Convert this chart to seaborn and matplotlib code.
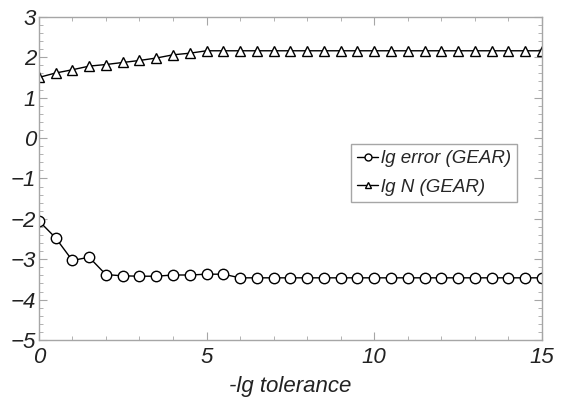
import numpy as np
import pandas as pd
import seaborn as sns
import matplotlib
matplotlib.use("Agg")
import matplotlib.pyplot as plt
from matplotlib.ticker import MultipleLocator

tolerance = [0, 0.5, 1, 1.5, 2, 2.5, 3, 3.5, 4, 4.5, 5, 5.5, 6, 6.5, 7, 7.5, 8, 8.5,
             9, 9.5, 10, 10.5, 11, 11.5, 12, 12.5, 13, 13.5, 14, 14.5, 15]
lg_error = [-2.05, -2.47, -3.03, -2.95, -3.38, -3.41, -3.42, -3.42, -3.39, -3.39,
            -3.37, -3.37, -3.46, -3.46, -3.46, -3.46, -3.46, -3.46, -3.46, -3.46,
            -3.46, -3.46, -3.46, -3.46, -3.46, -3.46, -3.46, -3.46, -3.46, -3.46, -3.46]
lg_N = [1.50, 1.61, 1.69, 1.78, 1.82, 1.87, 1.92, 1.98, 2.06, 2.10,
        2.16, 2.16, 2.16, 2.16, 2.16, 2.16, 2.16, 2.16, 2.16, 2.16,
        2.16, 2.16, 2.16, 2.16, 2.16, 2.16, 2.16, 2.16, 2.16, 2.16, 2.16]
labels = ["lg error (GEAR)", "lg N (GEAR)"]

sns.set_style("white")
plt.rcParams['font.family'] = ['Liberation Sans', 'DejaVu Sans']
plt.rcParams['font.style'] = 'italic'

df = pd.DataFrame({
    "x": tolerance * 2,
    "y": lg_error + lg_N,
    "series": [labels[0]] * len(tolerance) + [labels[1]] * len(tolerance),
})

fig = plt.figure(figsize=(5.71, 4.01), dpi=100)
ax = fig.add_axes([0.068, 0.152, 0.881, 0.806])

sns.lineplot(data=df, x="x", y="y", hue="series", style="series",
             palette=["black", "black"], markers=["o", "^"], dashes=False,
             markersize=7.5, markerfacecolor="white", markeredgecolor="black",
             markeredgewidth=1.0, linewidth=1.0, ax=ax)

ax.set_xlim(0, 15)
ax.set_ylim(-5, 3)
ax.xaxis.set_major_locator(MultipleLocator(5))
ax.xaxis.set_minor_locator(MultipleLocator(1))
ax.yaxis.set_major_locator(MultipleLocator(1))
ax.yaxis.set_minor_locator(MultipleLocator(0.2))
grey = "#a6a6a6"
for s in ax.spines.values():
    s.set_color(grey)
    s.set_linewidth(1.0)
ax.tick_params(which="both", direction="in", colors=grey, labelcolor="#222222",
               top=True, right=True, bottom=True, left=True, labelsize=16)
ax.tick_params(axis="y", pad=2)
ax.tick_params(axis="x", pad=5)
ax.tick_params(which="major", length=6)
ax.tick_params(which="minor", length=3)
for lab in ax.get_xticklabels() + ax.get_yticklabels():
    lab.set_fontstyle("italic")
ax.set_xlabel("-lg tolerance", fontsize=16, fontstyle="italic", color="#222222", labelpad=6)
ax.set_ylabel("")

leg = ax.legend(loc="upper left", bbox_to_anchor=(0.62, 0.608), fontsize=13.5,
                handlelength=1.1, handletextpad=0.15, borderpad=0.35,
                labelspacing=0.6, fancybox=False, framealpha=1, borderaxespad=0)
leg.get_frame().set_edgecolor(grey)
leg.get_frame().set_linewidth(1.0)
for t in leg.get_texts():
    t.set_fontstyle("italic")
for h in leg.legend_handles:
    h.set_markersize(5)
    h.set_markerfacecolor("white")

fig.savefig("out.png", dpi=100)
